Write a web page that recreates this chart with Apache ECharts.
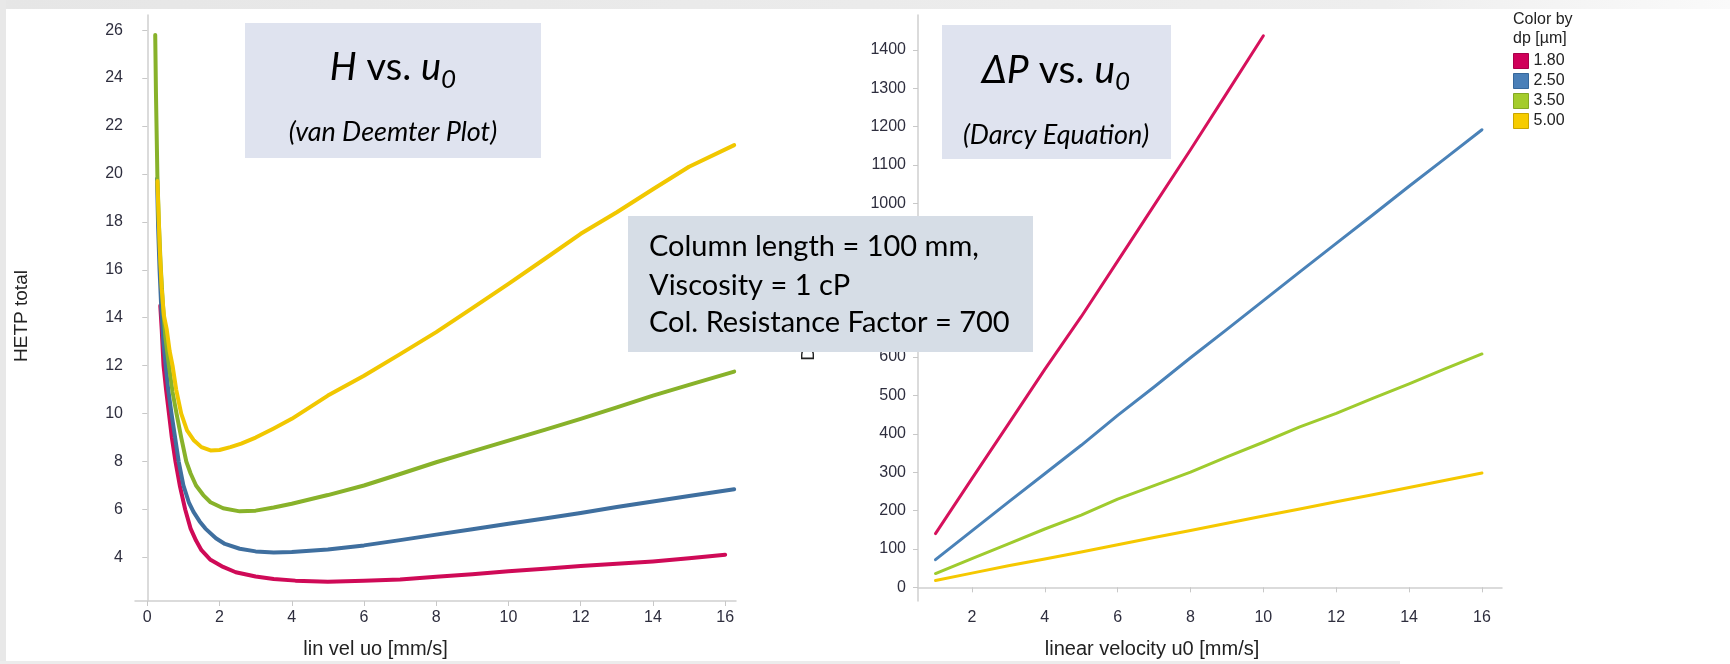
<!DOCTYPE html>
<html>
<head>
<meta charset="utf-8">
<script src="https://cdn.jsdelivr.net/npm/echarts@6/dist/echarts.min.js"></script>
<style>
html,body{margin:0;padding:0;background:#fff;}
#chart{width:1730px;height:664px;}
</style>
</head>
<body>
<div id="chart"></div>
<script>
// ---------- DATA ----------
const seriesNames = ['1.80', '2.50', '3.50', '5.00'];

// Left chart: H (HETP total) vs linear velocity u0 (van Deemter)
const uRed    = [0.36,0.4,0.45,0.52,0.6,0.68,0.78,0.9,1.05,1.2,1.35,1.5,1.75,2.1,2.45,3.0,3.5,4.1,5.0,6.0,7.0,8.0,9.0,10.0,11.0,12.0,13.0,14.0,15.0,16.0];
const hRed    = [14.5,13.5,12.0,11.0,10.0,9.0,8.0,7.0,6.0,5.2,4.7,4.3,3.9,3.6,3.38,3.2,3.1,3.03,2.98,3.02,3.08,3.19,3.3,3.42,3.53,3.64,3.73,3.83,3.96,4.11];
const uBlue   = [0.27,0.3,0.34,0.39,0.45,0.51,0.58,0.67,0.77,0.87,1.0,1.15,1.28,1.45,1.61,1.9,2.15,2.56,3.0,3.5,4.0,5.0,6.0,7.0,8.0,9.0,10.0,11.0,12.0,13.0,14.0,15.0,16.25];
const hBlue   = [19.8,17.8,16.0,14.3,12.9,12.0,11.0,10.0,9.0,8.0,7.0,6.3,5.9,5.5,5.2,4.8,4.56,4.36,4.25,4.2,4.22,4.33,4.5,4.72,4.95,5.17,5.4,5.62,5.85,6.1,6.33,6.56,6.84];
const uGreen  = [0.22,0.24,0.28,0.32,0.37,0.43,0.5,0.6,0.7,0.81,0.94,1.08,1.2,1.35,1.55,1.75,2.1,2.56,3.0,3.5,4.0,5.0,6.0,7.0,8.0,9.0,10.0,11.0,12.0,13.0,14.0,15.0,16.25];
const hGreen  = [25.8,23.4,19.9,18.0,16.2,14.6,13.2,12.0,10.9,10.0,9.0,8.0,7.5,7.0,6.6,6.3,6.05,5.92,5.95,6.08,6.24,6.6,7.0,7.48,7.97,8.42,8.87,9.32,9.78,10.26,10.75,11.2,11.75];
const uYellow = [0.28,0.31,0.35,0.4,0.46,0.54,0.62,0.7,0.8,0.94,1.1,1.28,1.5,1.75,2.0,2.3,2.6,3.0,3.5,4.0,5.0,6.0,7.0,8.0,9.0,10.0,11.0,12.0,13.0,14.0,15.0,16.25];
const hYellow = [19.7,18.4,16.7,15.2,14.1,13.5,12.6,12.0,11.0,10.0,9.3,8.9,8.6,8.46,8.48,8.6,8.75,9.0,9.38,9.78,10.75,11.58,12.48,13.4,14.4,15.41,16.45,17.5,18.4,19.36,20.3,21.2];

// Right chart: Delta P vs linear velocity u0 (Darcy)
const uDarcy      = [1,2,3,4,5,6,7,8,9,10,11,12,13,14,15,16];
const dpRed       = [140,283,425,568,705,850,995,1140,1288,1437];
const dpBlue      = [72,147,222,296,370,448,522,598,672,747,822,896,970,1045,1118,1192];
const dpGreen     = [36,75,113,152,188,230,265,300,340,378,418,453,492,530,570,608];
const dpYellow    = [18,37,56,74,92,111,130,148,167,186,204,223,241,260,279,298];

// Tick labels
const xTicksLeft  = [0,2,4,6,8,10,12,14,16];
const yTicksLeft  = [4,6,8,10,12,14,16,18,20,22,24,26];
const xTicksRight = [2,4,6,8,10,12,14,16];
const yTicksRight = [0,100,200,300,400,500,600,700,800,900,1000,1100,1200,1300,1400];

// ---------- STYLE ----------
const leftColors  = ['#cf0a57', '#3f6f9f', '#88b22a', '#f1c700'];
const rightColors = ['#d6115c', '#4a82b8', '#9fcb2e', '#f5c800'];
const legendColors = ['#d0005a', '#4a7fb8', '#a4cc2c', '#f6cc00'];
const legendBorders = ['#a8004a', '#37679a', '#84a824', '#c9a600'];

const tickFont = 'Liberation Sans, Arial, sans-serif';
const slideFont = 'Lato, "Open Sans", "DejaVu Sans", sans-serif';

function pairs(xs, ys) { return ys.map((y, i) => [xs[i], y]); }

const axisLineStyle = { lineStyle: { color: '#cfcfcf', width: 1.5 } };
const axisTickStyle = { lineStyle: { color: '#c8c8c8', width: 1 }, length: 5 };
const labelStyle = { color: '#2e2e3e', fontSize: 16, fontFamily: tickFont, formatter: v => String(v) };

const leftData = [pairs(uRed, hRed), pairs(uBlue, hBlue), pairs(uGreen, hGreen), pairs(uYellow, hYellow)];
const rightData = [pairs(uDarcy, dpRed), pairs(uDarcy, dpBlue), pairs(uDarcy, dpGreen), pairs(uDarcy, dpYellow)];

const series = [];
seriesNames.forEach((n, i) => {
  series.push({
    name: n, type: 'line', xAxisIndex: 0, yAxisIndex: 0,
    data: leftData[i], showSymbol: false, smooth: false,
    lineStyle: { color: leftColors[i], width: 4, join: 'round', cap: 'round' }, itemStyle: { color: leftColors[i] },
    z: 2 + i
  });
});
seriesNames.forEach((n, i) => {
  series.push({
    name: n, type: 'line', xAxisIndex: 1, yAxisIndex: 1,
    data: rightData[i], showSymbol: false,
    lineStyle: { color: rightColors[i], width: 3, join: 'round', cap: 'round' }, itemStyle: { color: rightColors[i] },
    z: 2 + i
  });
});

const chart = echarts.init(document.getElementById('chart'), null, { renderer: 'canvas' });

function titleRich(size, subSize) {
  return {
    i: { fontFamily: slideFont, fontStyle: 'italic', fontSize: size, fill: '#000' },
    n: { fontFamily: slideFont, fontSize: size, fill: '#000' },
    s: { fontFamily: slideFont, fontStyle: 'italic', fontSize: subSize, padding: [24, 0, 0, 0], fill: '#000' }
  };
}

const option = {
  animation: false,
  backgroundColor: '#ffffff',
  grid: [
    { left: 135, top: 15, width: 601, height: 587.5 },
    { left: 918, top: 15, width: 584, height: 587.5 }
  ],
  xAxis: [
    {
      type: 'value', gridIndex: 0, min: -0.34, max: 16.3,
      axisLine: axisLineStyle, splitLine: { show: false },
      axisTick: Object.assign({ customValues: xTicksLeft }, axisTickStyle),
      axisLabel: Object.assign({ customValues: xTicksLeft, margin: 9 }, labelStyle),
      name: 'lin vel uo [mm/s]', nameLocation: 'middle', nameGap: 38,
      nameTextStyle: { fontSize: 20, color: '#222', fontFamily: tickFont, padding: [0, 120, 0, 0] }
    },
    {
      type: 'value', gridIndex: 1, min: 0.52, max: 16.55,
      axisLine: axisLineStyle, splitLine: { show: false },
      axisTick: Object.assign({ customValues: xTicksRight }, axisTickStyle),
      axisLabel: Object.assign({ customValues: xTicksRight, margin: 9 }, labelStyle),
      name: 'linear velocity u0 [mm/s]', nameLocation: 'middle', nameGap: 38,
      nameTextStyle: { fontSize: 20, color: '#222', fontFamily: tickFont, padding: [0, 116, 0, 0] }
    }
  ],
  yAxis: [
    {
      type: 'value', gridIndex: 0, min: 2.18, max: 26.63,
      axisLine: Object.assign({ show: true }, axisLineStyle), splitLine: { show: false },
      axisTick: Object.assign({ show: true, customValues: yTicksLeft }, axisTickStyle),
      axisLabel: Object.assign({ customValues: yTicksLeft, margin: 12 }, labelStyle),
      name: 'HETP total', nameLocation: 'middle', nameGap: 104,
      nameTextStyle: { fontSize: 19, color: '#222', fontFamily: tickFont, padding: [0, 16, 0, 0] }
    },
    {
      type: 'value', gridIndex: 1, min: -35.6, max: 1491,
      axisLine: Object.assign({ show: true }, axisLineStyle), splitLine: { show: false },
      axisTick: Object.assign({ show: true, customValues: yTicksRight }, axisTickStyle),
      axisLabel: Object.assign({ customValues: yTicksRight, margin: 12 }, labelStyle),
      name: 'Delta P [bar]', nameLocation: 'middle', nameGap: 100,
      nameTextStyle: { fontSize: 19, color: '#222', fontFamily: tickFont }
    }
  ],
  legend: {
    orient: 'vertical', left: 1513, top: 53, padding: 0, icon: 'rect',
    itemWidth: 15, itemHeight: 15, itemGap: 4,
    textStyle: { fontSize: 16, color: '#222', fontFamily: tickFont },
    selectedMode: false,
    data: seriesNames.map((n, i) => ({ name: n, itemStyle: { color: legendColors[i], borderColor: legendBorders[i], borderWidth: 1 } }))
  },
  series: series,
  graphic: [
    // slide edges
    { type: 'rect', z: 0, silent: true, shape: { x: 0, y: 0, width: 1730, height: 9 },
      style: { fill: new echarts.graphic.LinearGradient(0, 0, 1, 0, [{ offset: 0, color: '#e6e6e6' }, { offset: 0.8, color: '#eeeeee' }, { offset: 1, color: '#fafafa' }]) } },
    { type: 'rect', z: 0, silent: true, shape: { x: 0, y: 0, width: 6, height: 664 }, style: { fill: '#e8e8e8' } },
    { type: 'rect', z: 0, silent: true, shape: { x: 0, y: 661, width: 1400, height: 3 }, style: { fill: '#ececec' } },

    // left title box
    { type: 'rect', z: 50, silent: true, shape: { x: 245, y: 23, width: 296, height: 135 }, style: { fill: '#dfe3ef' } },
    { type: 'text', z: 51, silent: true, x: 393, y: 68,
      style: { text: '{i|H}{n| vs. }{i|u}{s|0}', align: 'center', verticalAlign: 'middle', fill: '#000',
        rich: titleRich(38, 26) } },
    { type: 'text', z: 51, silent: true, x: 393, y: 132,
      style: { text: '(van Deemter Plot)', align: 'center', verticalAlign: 'middle', fill: '#000',
        font: 'italic 27px ' + slideFont } },

    // right title box
    { type: 'rect', z: 50, silent: true, shape: { x: 942, y: 25, width: 229, height: 134 }, style: { fill: '#dfe3ef' } },
    { type: 'text', z: 51, silent: true, x: 1056, y: 70,
      style: { text: '{i|ΔP}{n| vs. }{i|u}{s|0}', align: 'center', verticalAlign: 'middle', fill: '#000',
        rich: titleRich(39, 26) } },
    { type: 'text', z: 51, silent: true, x: 1056, y: 135,
      style: { text: '(Darcy Equation)', align: 'center', verticalAlign: 'middle', fill: '#000',
        font: 'italic 27px ' + slideFont } },

    // middle parameter box
    { type: 'rect', z: 60, silent: true, shape: { x: 628, y: 216, width: 405, height: 136 }, style: { fill: '#d6dde6' } },
    { type: 'text', z: 61, silent: true, x: 649, y: 247,
      style: { text: 'Column length = 100 mm,', align: 'left', verticalAlign: 'middle', fill: '#000', font: '29px ' + slideFont } },
    { type: 'text', z: 61, silent: true, x: 649, y: 286,
      style: { text: 'Viscosity = 1 cP', align: 'left', verticalAlign: 'middle', fill: '#000', font: '29px ' + slideFont } },
    { type: 'text', z: 61, silent: true, x: 649, y: 323,
      style: { text: 'Col. Resistance Factor = 700', align: 'left', verticalAlign: 'middle', fill: '#000', font: '29px ' + slideFont } },

    // legend title
    { type: 'text', z: 51, silent: true, x: 1513, y: 10,
      style: { text: 'Color by\ndp [µm]', align: 'left', verticalAlign: 'top', fill: '#222',
        font: '16px ' + tickFont, lineHeight: 19 } }
  ]
};

chart.setOption(option);
</script>
</body>
</html>
